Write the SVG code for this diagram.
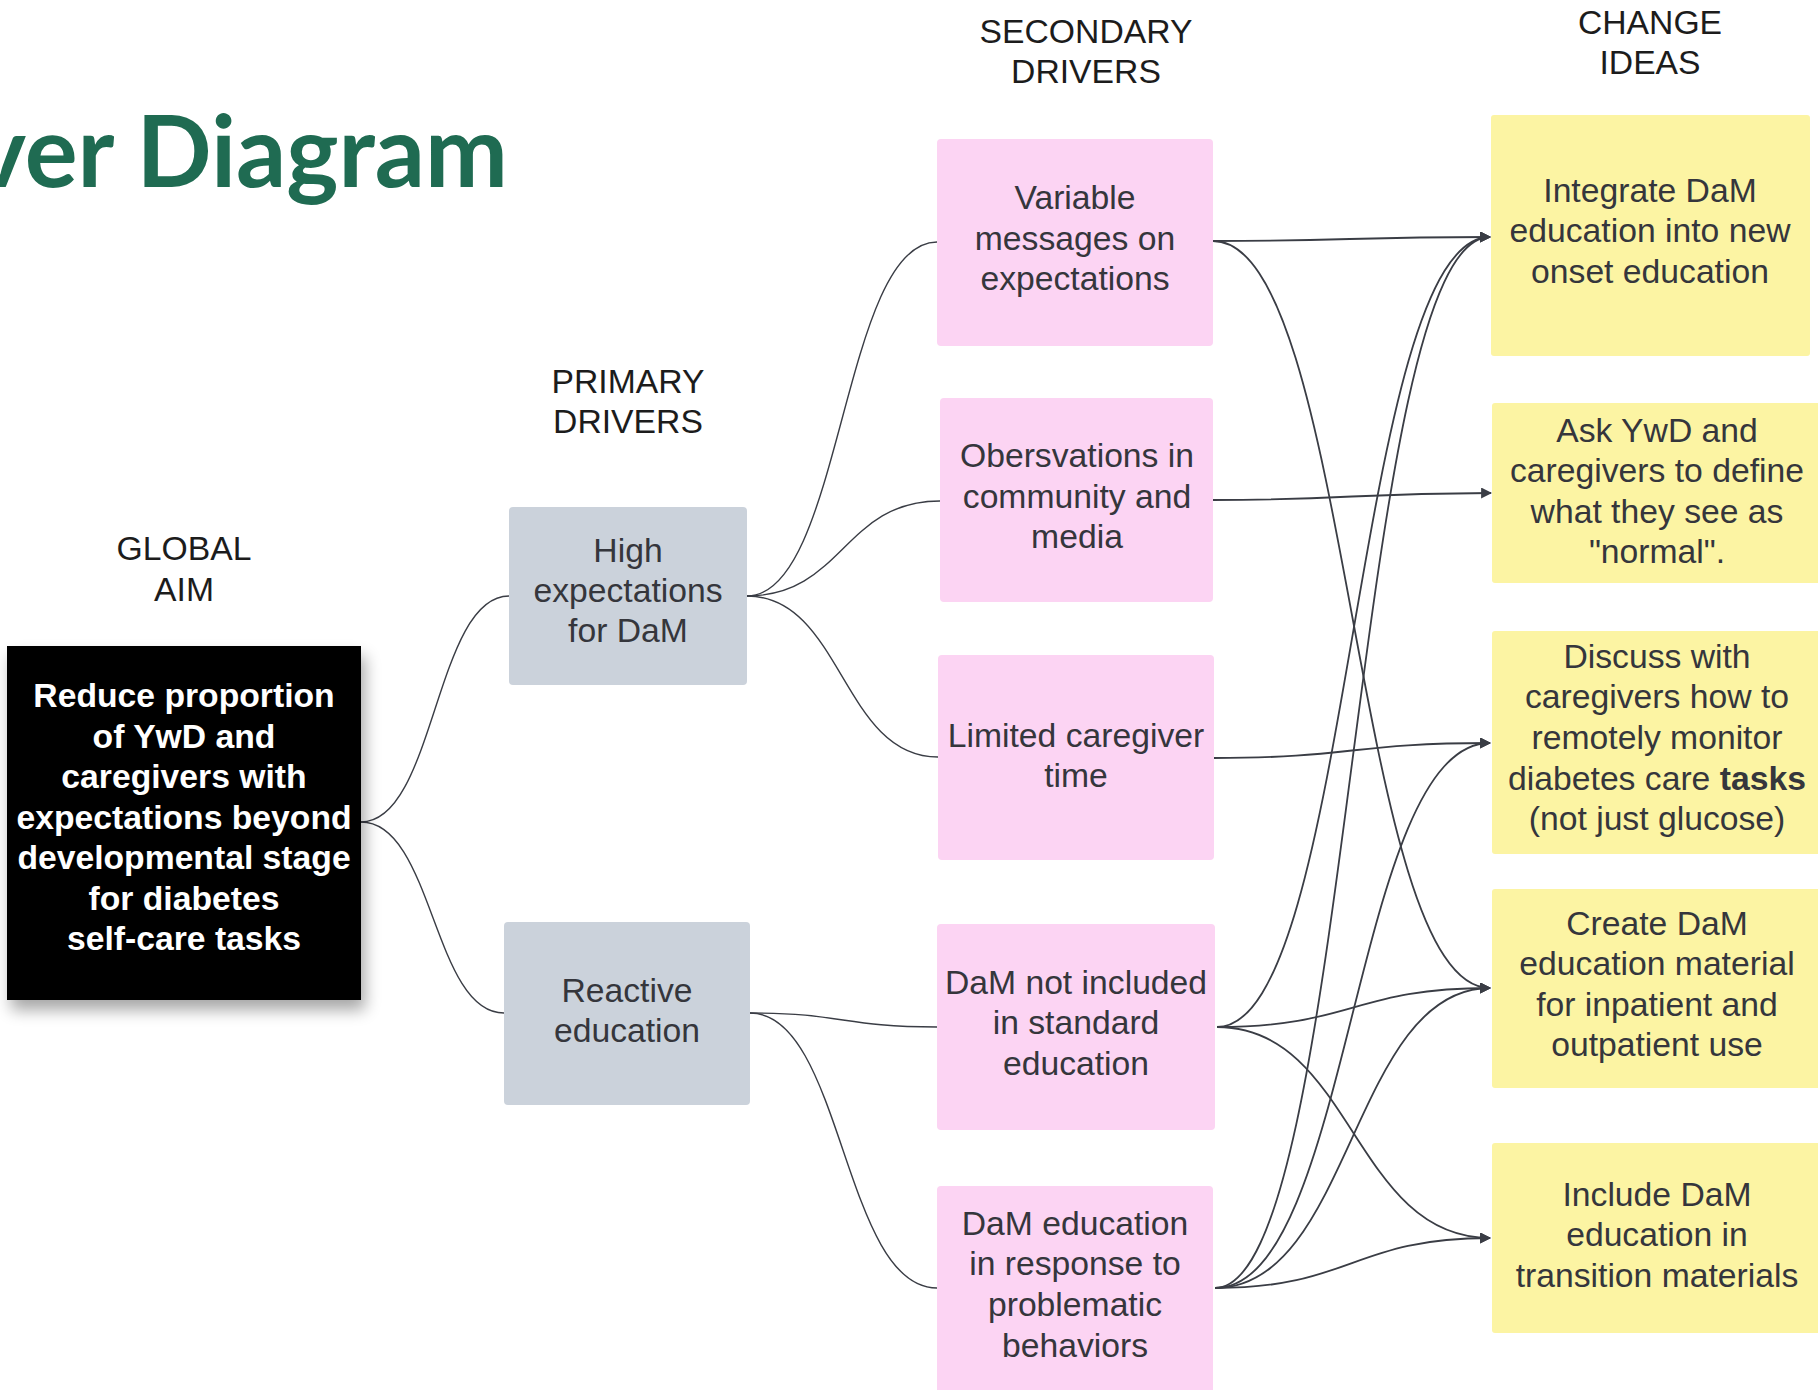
<svg xmlns="http://www.w3.org/2000/svg" width="1818" height="1390" viewBox="0 0 1818 1390">
  <style>
    text { font-family: "Liberation Sans", Arial, sans-serif; font-size: 33.7px; text-anchor: middle; }
    .title { font-family: Lato, "Open Sans", sans-serif; font-weight: 700; font-size: 99px; fill: #1f6b52; text-anchor: end; }
    .hdr { fill: #1c1c1c; }
    .aim { fill: #ffffff; font-weight: 700; }
    .lbl { fill: #35363c; }
    .primary { fill: #cbd2db; }
    .secondary { fill: #fcd4f3; }
    .idea { fill: #fcf4a3; }
    .conn path { fill: none; stroke: #3a3d45; }
    .thin { stroke-width: 1.4; }
    .arr { stroke-width: 1.8; marker-end: url(#head); }
  </style>
  <defs>
    <marker id="head" viewBox="0 0 10 10" refX="9" refY="5" markerWidth="11" markerHeight="11" markerUnits="userSpaceOnUse" orient="auto">
      <path d="M0,0 L10,5 L0,10 z" fill="#3a3d45"/>
    </marker>
    <filter id="shadow" x="-20%" y="-20%" width="140%" height="150%">
      <feGaussianBlur in="SourceAlpha" stdDeviation="8"/>
      <feOffset dx="4" dy="10" result="b"/>
      <feComponentTransfer><feFuncA type="linear" slope="0.35"/></feComponentTransfer>
      <feMerge><feMergeNode/><feMergeNode in="SourceGraphic"/></feMerge>
    </filter>
  </defs>

  <rect width="1818" height="1390" fill="#ffffff"/>

  <text class="title" x="508" y="187">ver Diagram</text>

  <!-- column headings -->
  <text class="hdr" x="184" y="560">GLOBAL</text>
  <text class="hdr" x="184" y="601">AIM</text>
  <text class="hdr" x="628" y="393">PRIMARY</text>
  <text class="hdr" x="628" y="433">DRIVERS</text>
  <text class="hdr" x="1086" y="43">SECONDARY</text>
  <text class="hdr" x="1086" y="83">DRIVERS</text>
  <text class="hdr" x="1650" y="34">CHANGE</text>
  <text class="hdr" x="1650" y="74">IDEAS</text>

  <!-- connectors -->
  <g id="connectors" class="conn">
    <path class="thin" d="M361,822 C435,822 435,596 509,596"/>
    <path class="thin" d="M361,822 C433,822 433,1013 504,1013"/>
    <path class="thin" d="M747,596 C842,596 842,242 937,242"/>
    <path class="thin" d="M747,596 C843,596 843,501 940,501"/>
    <path class="thin" d="M747,596 C842,596 842,757 938,757"/>
    <path class="thin" d="M750,1013 C843,1013 843,1027 937,1027"/>
    <path class="thin" d="M750,1013 C843,1013 843,1288 937,1288"/>

    <path class="arr" d="M1213,241 C1350,241 1350,237 1490,237"/>
    <path class="arr" d="M1213,241 C1352,241 1352,988 1490,988"/>
    <path class="arr" d="M1213,500 C1352,500 1352,493 1491,493"/>
    <path class="arr" d="M1214,758 C1352,758 1352,743 1490,743"/>
    <path class="arr" d="M1217,1027 C1353,1027 1353,237 1490,237"/>
    <path class="arr" d="M1217,1027 C1353,1027 1353,988 1490,988"/>
    <path class="arr" d="M1217,1027 C1353,1027 1353,1238 1490,1238"/>
    <path class="arr" d="M1215,1288 C1352,1288 1352,237 1490,237"/>
    <path class="arr" d="M1215,1288 C1352,1288 1352,743 1490,743"/>
    <path class="arr" d="M1215,1288 C1352,1288 1352,988 1490,988"/>
    <path class="arr" d="M1215,1288 C1352,1288 1352,1238 1490,1238"/>
  </g>

  <!-- global aim -->
  <g id="global-aim">
    <rect x="7" y="646" width="354" height="354" fill="#000000" filter="url(#shadow)"/>
    <text class="aim" x="184" y="707">Reduce proportion</text>
    <text class="aim" x="184" y="748">of YwD and</text>
    <text class="aim" x="184" y="788">caregivers with</text>
    <text class="aim" x="184" y="829">expectations beyond</text>
    <text class="aim" x="184" y="869">developmental stage</text>
    <text class="aim" x="184" y="910">for diabetes</text>
    <text class="aim" x="184" y="950">self-care tasks</text>
  </g>

  <!-- primary drivers -->
  <g id="primary-high-expectations">
    <rect class="primary" x="509" y="507" width="238" height="178" rx="4"/>
    <text class="lbl" x="628" y="562">High</text>
    <text class="lbl" x="628" y="602">expectations</text>
    <text class="lbl" x="628" y="642">for DaM</text>
  </g>
  <g id="primary-reactive-education">
    <rect class="primary" x="504" y="922" width="246" height="183" rx="4"/>
    <text class="lbl" x="627" y="1002">Reactive</text>
    <text class="lbl" x="627" y="1042">education</text>
  </g>

  <!-- secondary drivers -->
  <g id="secondary-variable-messages">
    <rect class="secondary" x="937" y="139" width="276" height="207" rx="4"/>
    <text class="lbl" x="1075" y="209">Variable</text>
    <text class="lbl" x="1075" y="250">messages on</text>
    <text class="lbl" x="1075" y="290">expectations</text>
  </g>
  <g id="secondary-observations">
    <rect class="secondary" x="940" y="398" width="273" height="204" rx="4"/>
    <text class="lbl" x="1077" y="467">Obersvations in</text>
    <text class="lbl" x="1077" y="508">community and</text>
    <text class="lbl" x="1077" y="548">media</text>
  </g>
  <g id="secondary-limited-time">
    <rect class="secondary" x="938" y="655" width="276" height="205" rx="4"/>
    <text class="lbl" x="1076" y="747">Limited caregiver</text>
    <text class="lbl" x="1076" y="787">time</text>
  </g>
  <g id="secondary-not-included">
    <rect class="secondary" x="937" y="924" width="278" height="206" rx="4"/>
    <text class="lbl" x="1076" y="994">DaM not included</text>
    <text class="lbl" x="1076" y="1034">in standard</text>
    <text class="lbl" x="1076" y="1075">education</text>
  </g>
  <g id="secondary-reactive-response">
    <rect class="secondary" x="937" y="1186" width="276" height="220" rx="4"/>
    <text class="lbl" x="1075" y="1235">DaM education</text>
    <text class="lbl" x="1075" y="1275">in response to</text>
    <text class="lbl" x="1075" y="1316">problematic</text>
    <text class="lbl" x="1075" y="1357">behaviors</text>
  </g>

  <!-- change ideas -->
  <g id="idea-integrate">
    <rect class="idea" x="1491" y="115" width="319" height="241" rx="3"/>
    <text class="lbl" x="1650" y="202">Integrate DaM</text>
    <text class="lbl" x="1650" y="242">education into new</text>
    <text class="lbl" x="1650" y="283">onset education</text>
  </g>
  <g id="idea-ask-normal">
    <rect class="idea" x="1492" y="403" width="340" height="180" rx="3"/>
    <text class="lbl" x="1657" y="442">Ask YwD and</text>
    <text class="lbl" x="1657" y="482">caregivers to define</text>
    <text class="lbl" x="1657" y="523">what they see as</text>
    <text class="lbl" x="1657" y="563">"normal".</text>
  </g>
  <g id="idea-remote-monitor">
    <rect class="idea" x="1492" y="631" width="340" height="223" rx="3"/>
    <text class="lbl" x="1657" y="668">Discuss with</text>
    <text class="lbl" x="1657" y="708">caregivers how to</text>
    <text class="lbl" x="1657" y="749">remotely monitor</text>
    <text class="lbl" x="1657" y="790">diabetes care <tspan font-weight="700">tasks</tspan></text>
    <text class="lbl" x="1657" y="830">(not just glucose)</text>
  </g>
  <g id="idea-create-material">
    <rect class="idea" x="1492" y="889" width="340" height="199" rx="3"/>
    <text class="lbl" x="1657" y="935">Create DaM</text>
    <text class="lbl" x="1657" y="975">education material</text>
    <text class="lbl" x="1657" y="1016">for inpatient and</text>
    <text class="lbl" x="1657" y="1056">outpatient use</text>
  </g>
  <g id="idea-transition">
    <rect class="idea" x="1492" y="1143" width="340" height="190" rx="3"/>
    <text class="lbl" x="1657" y="1206">Include DaM</text>
    <text class="lbl" x="1657" y="1246">education in</text>
    <text class="lbl" x="1657" y="1287">transition materials</text>
  </g>
</svg>
